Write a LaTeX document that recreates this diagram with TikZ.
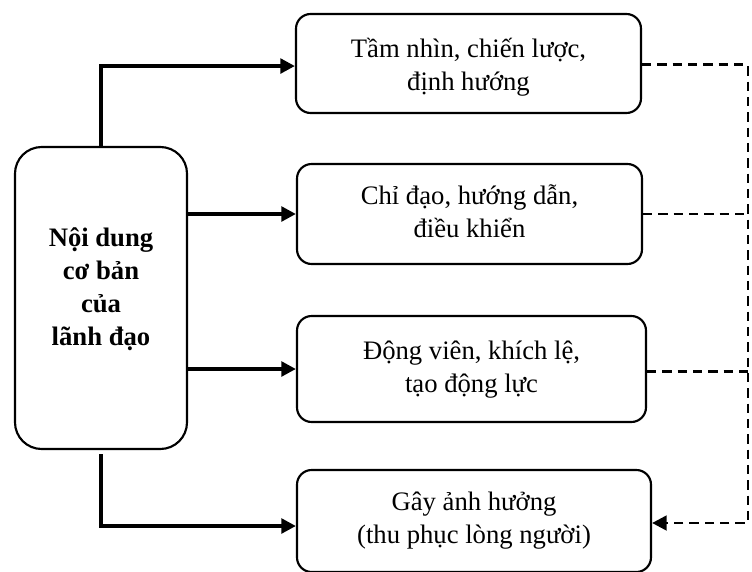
\documentclass[tikz,border=0pt]{standalone}
\usepackage{fontspec}
\setmainfont{Liberation Serif}
\usetikzlibrary{arrows.meta,calc}
\newcommand\txtlines[2]{\raisebox{#1}[0pt][0pt]{\begin{tabular}[b]{@{}c@{}}#2\end{tabular}}}
\begin{document}
\begin{tikzpicture}[x=0.75pt,y=-0.75pt,
  box/.style={draw,line width=1.6pt,rounded corners=11pt,inner sep=0pt,
    font=\fontsize{20}{24.75}\selectfont},
  mainbox/.style={draw,line width=1.6pt,rounded corners=20pt,inner sep=0pt,
    font=\bfseries\fontsize{20}{24.75}\selectfont},
  arr/.style={line width=2.7pt,-{Triangle[length=11pt,width=11pt]}},
  dsh/.style={line width=2.2pt,dash pattern=on 7pt off 4.5pt}]
\useasboundingbox (0,0) rectangle (752,571);
\node[mainbox,minimum width=129pt,minimum height=226.5pt] (L) at (101,298) {\txtlines{-35.25pt}{Nội dung\\ cơ bản\\ của\\ lãnh đạo}};
\node[box,minimum width=258.75pt,minimum height=74.25pt] (B1) at (468.5,63.5) {\txtlines{-19.9pt}{Tầm nhìn, chiến lược,\\ định hướng}};
\node[box,minimum width=258.75pt,minimum height=75pt] (B2) at (469.5,214) {\txtlines{-17.25pt}{Chỉ đạo, hướng dẫn,\\ điều khiển}};
\node[box,minimum width=261.75pt,minimum height=79.5pt] (B3) at (471.5,369) {\txtlines{-17.25pt}{Động viên, khích lệ,\\ tạo động lực}};
\node[box,minimum width=265.5pt,minimum height=76.5pt] (B4) at (474,521) {\txtlines{-16.5pt}{Gây ảnh hưởng\\ (thu phục lòng người)}};
\coordinate (C) at (748,523);
\draw[arr] (L.north) |- ([yshift=-1.9pt]B1.west);
\draw[arr] (L.east |- B2.west) -- (B2.west);
\draw[arr] (L.east |- B3.west) -- (B3.west);
\draw[arr] ([yshift=-3pt]L.south) |- ([yshift=-3.75pt]B4.west);
\draw[dsh,-{Triangle[length=11pt,width=11pt]}] ([yshift=-1pt]B1.east) -| (C) -- (B4.east |- C);
\draw[dsh] (B2.east) -- (B2.east -| C);
\draw[dsh] ([yshift=-2pt]B3.east) -- ([yshift=-2pt]B3.east -| C);
\end{tikzpicture}
\end{document}
